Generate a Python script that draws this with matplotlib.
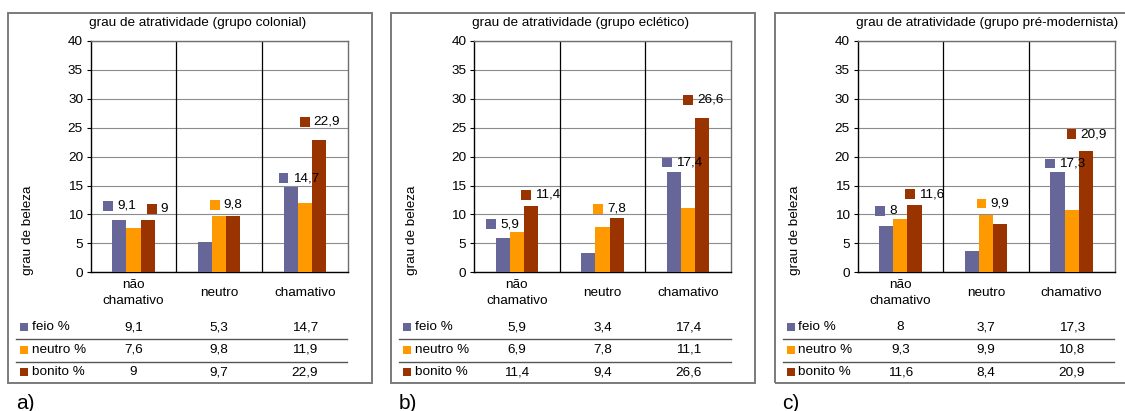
import matplotlib
matplotlib.use("Agg")
import matplotlib.pyplot as plt
from matplotlib.patches import Rectangle
from matplotlib.offsetbox import AnnotationBbox, HPacker, TextArea, DrawingArea
import numpy as np

plt.rcParams['font.family'] = ['Liberation Sans', 'DejaVu Sans']

# ---- data -------------------------------------------------------------
categories = ["não\nchamativo", "neutro", "chamativo"]
series_names = ["feio %", "neutro %", "bonito %"]
series_colors = ["#666699", "#FF9900", "#993300"]

titles = ["grau de atratividade (grupo colonial)",
          "grau de atratividade (grupo eclético)",
          "grau de atratividade (grupo pré-modernista)"]
panel_tags = ["a)", "b)", "c)"]

colonial_feio = [9.1, 5.3, 14.7]
colonial_neutro = [7.6, 9.8, 11.9]
colonial_bonito = [9.0, 9.7, 22.9]

eclectic_feio = [5.9, 3.4, 17.4]
eclectic_neutro = [6.9, 7.8, 11.1]
eclectic_bonito = [11.4, 9.4, 26.6]

premodern_feio = [8.0, 3.7, 17.3]
premodern_neutro = [9.3, 9.9, 10.8]
premodern_bonito = [11.6, 8.4, 20.9]

panels = [
    [colonial_feio, colonial_neutro, colonial_bonito],
    [eclectic_feio, eclectic_neutro, eclectic_bonito],
    [premodern_feio, premodern_neutro, premodern_bonito],
]

y_ticks = [0, 5, 10, 15, 20, 25, 30, 35, 40]
y_label = "grau de beleza"

# bars that carry a value label: (series, category)
labelled_bars = [(0, 0), (2, 0), (1, 1), (0, 2), (2, 2)]
# label placement: horizontal shift in pixels, vertical lift in axis units
label_dx = [0, 10, 7, 8, 1]
label_dy = [[2.4, 2.0, 1.9, 1.55, 3.1],
            [2.45, 2.0, 3.15, 1.6, 3.2],
            [2.65, 1.9, 2.0, 1.5, 3.0]]


def fmt(v):
    s = ("%.1f" % v).rstrip("0").rstrip(".")
    return s.replace(".", ",")


# ---- layout (pixels) ---------------------------------------------------
W, H = 1125, 411
fig = plt.figure(figsize=(W / 100, H / 100), dpi=100)


def fx(x):
    return x / W


def fy(y):
    return 1 - y / H


plot_lefts = [90.7, 474.0, 857.5]
plot_w = 257.0
plot_top, plot_bot = 41.0, 272.3
frame_dx, frame_w = 83.0, 364.0
frame_top, frame_bot = 13.0, 383.0
fs = 9.7
bar_w = 0.165

for p, (PL, data) in enumerate(zip(plot_lefts, panels)):
    # outer frame of the panel
    fl = PL - frame_dx
    fig.patches.append(Rectangle((fx(fl), fy(frame_bot)), frame_w / W,
                                 (frame_bot - frame_top) / H,
                                 transform=fig.transFigure, fill=False,
                                 edgecolor="#7a7a7a", linewidth=1.4, zorder=0))

    ax = fig.add_axes([fx(PL), fy(plot_bot), plot_w / W,
                       (plot_bot - plot_top) / H])
    x = np.arange(len(categories))
    for s, vals in enumerate(data):
        ax.bar(x + (s - 1) * bar_w, vals, width=bar_w,
               color=series_colors[s], zorder=3, linewidth=0)

    ax.set_xlim(-0.5, 2.5)
    ax.set_ylim(0, 40)
    ax.set_yticks(y_ticks)
    ax.set_yticklabels([str(t) for t in y_ticks], fontsize=fs)
    ax.tick_params(axis='y', length=3, width=0.8, pad=2.5, direction='out')
    ax.set_xticks([])
    ax.yaxis.grid(True, color="#8c8c8c", linewidth=0.8, zorder=1)
    for xv in (0.5, 1.5):
        ax.axvline(xv, color="black", linewidth=0.9, zorder=2)
    for side in ("left", "bottom"):
        ax.spines[side].set_color("black")
        ax.spines[side].set_linewidth(1.0)
    for side in ("top", "right"):
        ax.spines[side].set_color("#6e6e6e")
        ax.spines[side].set_linewidth(1.0)
    ax.set_axisbelow(True)

    # value labels with legend key
    for k, (s, c) in enumerate(labelled_bars):
        v = data[s][c]
        key = DrawingArea(7, 7, 0, 0)
        key.add_artist(Rectangle((0, 0), 7, 7, facecolor=series_colors[s],
                                 edgecolor="none"))
        txt = TextArea(fmt(v), textprops=dict(fontsize=fs, color="black"))
        box = HPacker(children=[key, txt], align="center", pad=0, sep=3)
        ab = AnnotationBbox(box, (c + (s - 1) * bar_w, v + label_dy[p][k]),
                            xybox=(label_dx[k] * 0.72, 0),
                            boxcoords="offset points", frameon=False,
                            box_alignment=(0.5, 0.5), zorder=5,
                            annotation_clip=False)
        ax.add_artist(ab)

    # title and axis label
    fig.text(fx(PL - 1.5), fy(23), titles[p], fontsize=fs, ha="left",
             va="center")
    fig.text(fx(PL - 62.5), fy(230), y_label, fontsize=fs, rotation=90,
             ha="center", va="center")

    # category labels
    cat_centers = [PL + plot_w * (i + 0.5) / 3 for i in range(3)]
    for i, cat in enumerate(categories):
        fig.text(fx(cat_centers[i]), fy(293), cat, fontsize=fs,
                 ha="center", va="center", linespacing=1.55)

    # data table beneath the chart
    row_y = [327, 349.5, 372]
    for s, name in enumerate(series_names):
        fig.patches.append(Rectangle((fx(PL - 71), fy(row_y[s] + 4)),
                                     8 / W, 8 / H, transform=fig.transFigure,
                                     facecolor=series_colors[s],
                                     edgecolor="none"))
        fig.text(fx(PL - 59), fy(row_y[s]), name, fontsize=fs,
                 ha="left", va="center")
        for i in range(3):
            fig.text(fx(cat_centers[i]), fy(row_y[s]), fmt(data[s][i]),
                     fontsize=fs, ha="center", va="center")
    for ly in (338.5, 361.5):
        fig.add_artist(plt.Line2D([fx(PL - 75), fx(PL + plot_w - 0.5)],
                                  [fy(ly), fy(ly)], color="#555555",
                                  linewidth=1.0, transform=fig.transFigure))

    fig.text(fx(fl + 8), fy(403), panel_tags[p], fontsize=15,
             ha="left", va="center")

fig.savefig("out.png", dpi=100)
